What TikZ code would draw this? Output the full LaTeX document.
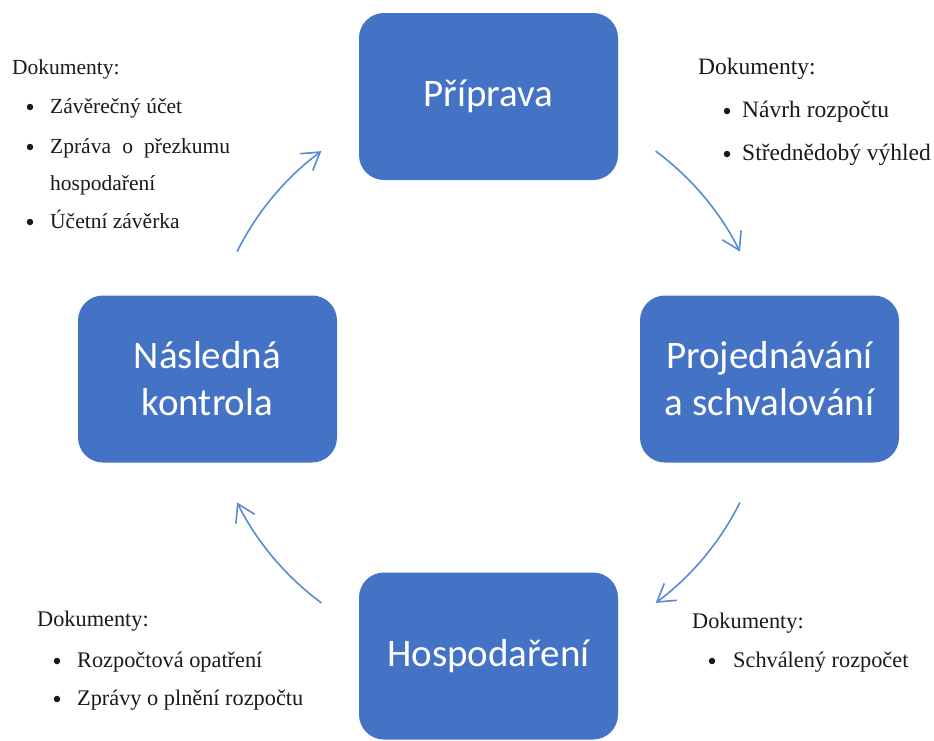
\documentclass[tikz,border=0pt]{standalone}
\usepackage{fontspec}
\setmainfont{Liberation Serif}
\newfontfamily\boxfont{Carlito}
\usetikzlibrary{arrows.meta,calc}
\definecolor{boxblue}{HTML}{4472C4}
\definecolor{arrblue}{HTML}{5A8AD6}
\definecolor{txt}{HTML}{1A1A1A}
\begin{document}
\begin{tikzpicture}[x=1pt,y=-1pt,
  stage/.style={draw=none, fill=boxblue, rounded corners=25pt, minimum width=259pt, minimum height=167pt,
    text=white, align=center, font=\boxfont\fontsize{39}{47}\selectfont, inner sep=0pt},
  doc/.style={anchor=base west, inner sep=0pt, text=txt},
  tl/.style={doc, font=\fontsize{21.5}{26}\selectfont},
  tr/.style={doc, font=\fontsize{23.5}{28}\selectfont},
  bt/.style={doc, font=\fontsize{22.3}{27}\selectfont},
  bul/.style={circle, fill=txt, inner sep=0pt, minimum size=6.5pt},
  cyc/.style={draw=arrblue, line width=1.6pt, -{Straight Barb[length=17pt,width=21pt,line width=1.6pt]}}
]
\useasboundingbox (0,0) rectangle (934,740);
\fill[white] (0,0) rectangle (934,740);

% stages
\node[stage] (prip) at (488.5,96.5) {Příprava};
\node[stage] (proj) at (769.5,379) {Projednávání\\a schvalování};
\node[stage] (hosp) at (488.5,656) {Hospodaření};
\node[stage] (nasl) at (207.5,379) {Následná\\kontrola};

% cycle arrows
\coordinate (C) at (488.5,377);
\coordinate (s1) at ($(C)+(206.5:281)$);
\coordinate (s2) at ($(C)+(306.5:281)$);
\coordinate (s3) at ($(C)+(26.5:281)$);
\coordinate (s4) at ($(C)+(126.5:281)$);
\draw[cyc] (s1) arc[start angle=206.5, end angle=233.5, radius=281];
\draw[cyc] (s2) arc[start angle=306.5, end angle=333.5, radius=281];
\draw[cyc] (s3) arc[start angle=26.5, end angle=53.5, radius=281];
\draw[cyc] (s4) arc[start angle=126.5, end angle=153.5, radius=281];

% top-left documents
\node[tl] (tlh) at (12,74) {Dokumenty:};
\node[bul] (tlb1) at (30,107) {};
\node[tl] (tl1) at (50,113) {Závěrečný účet};
\node[bul] (tlb2) at (30,147) {};
\node[tl] (tl2) at (50,153) {\makebox[180pt][s]{Zpráva o přezkumu}};
\node[tl] (tl2b) at (50,190) {hospodaření};
\node[bul] (tlb3) at (30,222) {};
\node[tl] (tl3) at (50,228) {Účetní závěrka};

% top-right documents
\node[tr] (trh) at (698,74) {Dokumenty:};
\node[bul] (trb1) at (727,111) {};
\node[tr] (tr1) at (742,117) {Návrh rozpočtu};
\node[bul] (trb2) at (727,154) {};
\node[tr] (tr2) at (742,160) {Střednědobý výhled};

% bottom-left documents
\node[bt] (blh) at (37,626) {Dokumenty:};
\node[bul] (blb1) at (57,661) {};
\node[bt] (bl1) at (77,667) {Rozpočtová opatření};
\node[bul] (blb2) at (57,699) {};
\node[bt] (bl2) at (77,705) {Zprávy o plnění rozpočtu};

% bottom-right documents
\node[bt] (brh) at (692,628) {Dokumenty:};
\node[bul] (brb1) at (712,661) {};
\node[bt] (br1) at (733,667) {Schválený rozpočet};
\end{tikzpicture}
\end{document}
